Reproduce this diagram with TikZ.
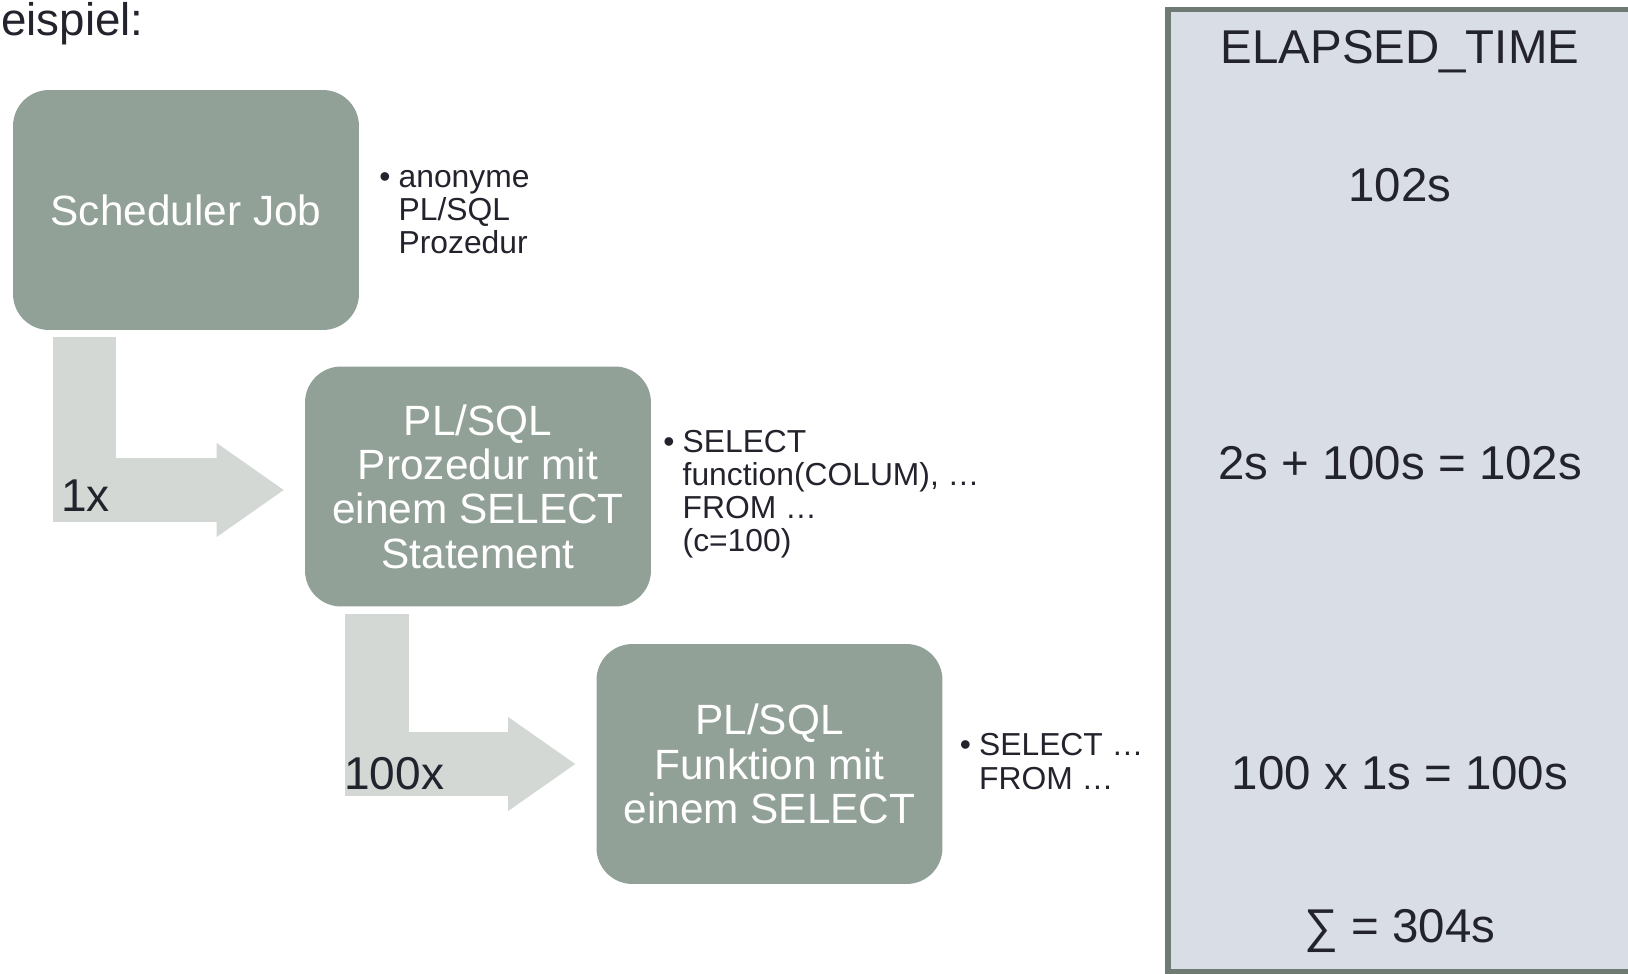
\documentclass[tikz,border=0pt]{standalone}
\usepackage{fontspec}
\setmainfont{Liberation Sans}
\usepackage{xcolor}
\usetikzlibrary{arrows.meta, positioning}

\definecolor{boxgreen}{RGB}{146,161,151}
\definecolor{arrowgrey}{RGB}{211,216,213}
\definecolor{panelblue}{RGB}{217,221,229}
\definecolor{panelline}{RGB}{110,122,114}
\definecolor{inkdark}{RGB}{35,35,45}
\newcommand{\bul}{\llap{•\hspace{4.6pt}}}

\begin{document}
\begin{tikzpicture}[
x=0.02cm, y=-0.02cm,
node distance = 8mm,
procbox/.style = {rectangle, rounded corners=0.72cm, fill=boxgreen, text=white,
                  minimum width=6.92cm, minimum height=4.8cm, inner sep=0pt,
                  align=center, font=\fontsize{24.1}{25.2}\selectfont},
notes/.style = {inner sep=0pt, align=left, text=inkdark,
                font=\fontsize{18.1}{18.9}\selectfont},
callarrow/.style = {draw=arrowgrey, line width=1.27cm,
                    -{Triangle[length=1.34cm, width=1.88cm, line width=0pt]}},
countlbl/.style = {inner sep=0pt, anchor=base west, text=inkdark,
                   font=\fontsize{26.2}{26.2}\selectfont},
timetxt/.style = {inner sep=0pt, anchor=base, text=inkdark,
                  font=\fontsize{27}{27}\selectfont},
                        ]
\useasboundingbox (0,0) rectangle (1628,973);

\node (title) [inner sep=0pt, anchor=base west, text=inkdark,
               font=\fontsize{26}{26}\selectfont] at (1,36) {eispiel:};

% call chain
\node (sched) [procbox] at (186,210)   {Scheduler Job};
\node (plsql) [procbox] at (478,486.5) {PL/SQL\\Prozedur mit\\einem SELECT\\Statement};
\node (func)  [procbox] at (769.5,764) {PL/SQL\\Funktion mit\\einem SELECT};

\node (schednote) [notes, right=0.78cm of sched, yshift=-0.04cm]  {\bul anonyme\\PL/SQL\\Prozedur};
\node (plsqlnote) [notes, right=0.62cm of plsql, yshift=-0.15cm]
      {\bul SELECT\\function(COLUM), …\\FROM …\\(c=100)};
\node (funcnote)  [notes, right=0.72cm of func, yshift=0.05cm]  {\bul SELECT …\\FROM …};

\draw[callarrow] ([xshift=1.44cm, yshift=-0.14cm]sched.south west)
                 |- ([xshift=-0.42cm, yshift=-0.07cm]plsql.west);
\draw[callarrow] ([xshift=1.45cm, yshift=-0.14cm]plsql.south west)
                 |- ([xshift=-0.42cm]func.west);
\node (once)    [countlbl] at (61,511)  {1x};
\node (hundred) [countlbl] at (344,789) {100x};

% elapsed time panel
\fill[panelblue] (1165,7) rectangle (1628,973);
\draw[panelline, line width=0.11cm] (1628,9.5) -- (1168,9.5) -- (1168,972) -- (1628,972);
\node (head) [timetxt] at (1400,64)  {ELAPSED\_TIME};
\node (t1)   [timetxt] at (1400,201) {102s};
\node (t2)   [timetxt] at (1400,479) {2s + 100s = 102s};
\node (t3)   [timetxt] at (1400,789) {100 x 1s = 100s};
\node (tsum) [timetxt] at (1400,942) {∑ = 304s};
\end{tikzpicture}
\end{document}
